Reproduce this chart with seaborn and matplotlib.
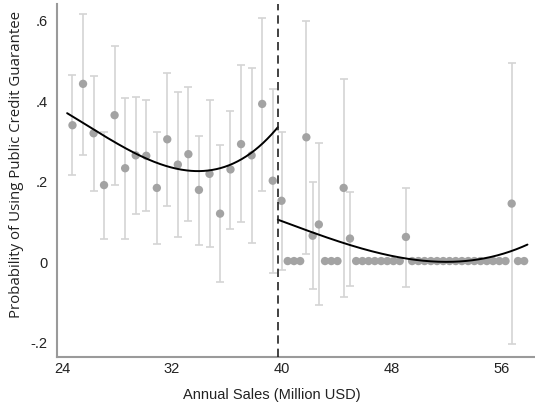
import numpy as np
import pandas as pd
import matplotlib
matplotlib.use("Agg")
import matplotlib.pyplot as plt
import matplotlib.transforms as mtransforms
import seaborn as sns

# Binned means left of the cutoff (annual sales < 40)
left_x = [25.03, 25.80, 26.57, 27.33, 28.10, 28.87, 29.64, 30.41, 31.18, 31.94,
          32.71, 33.48, 34.25, 35.02, 35.79, 36.55, 37.32, 38.09, 38.86, 39.63]
left_y = [0.338, 0.441, 0.318, 0.189, 0.363, 0.231, 0.263, 0.262, 0.182, 0.303,
          0.240, 0.266, 0.177, 0.217, 0.118, 0.228, 0.291, 0.263, 0.391, 0.200]
left_hi = [0.463, 0.615, 0.461, 0.320, 0.536, 0.405, 0.409, 0.400, 0.320, 0.468,
           0.420, 0.434, 0.311, 0.400, 0.288, 0.374, 0.487, 0.481, 0.605, 0.429]
left_lo = [0.215, 0.265, 0.175, 0.056, 0.190, 0.056, 0.116, 0.124, 0.043, 0.138,
           0.060, 0.099, 0.041, 0.035, -0.053, 0.081, 0.096, 0.046, 0.175, -0.029]

# Binned means right of the cutoff (annual sales >= 40)
right_x = [40.27, 40.72, 41.18, 41.63, 42.08, 42.54, 42.99, 43.44, 43.90, 44.35,
           44.80, 45.26, 45.71, 46.17, 46.62, 47.07, 47.53, 47.98, 48.43, 48.89,
           49.34, 49.79, 50.25, 50.70, 51.16, 51.61, 52.06, 52.52, 52.97, 53.42,
           53.88, 54.33, 54.78, 55.24, 55.69, 56.15, 56.60, 57.05, 57.51, 57.96]
right_y = [0.150, 0, 0, 0, 0.308, 0.063, 0.091, 0, 0, 0,
           0.182, 0.056, 0, 0, 0, 0, 0, 0, 0, 0,
           0.060, 0, 0, 0, 0, 0, 0, 0, 0, 0,
           0, 0, 0, 0, 0, 0, 0, 0.143, 0, 0]
# confidence intervals only for bins with non-zero means
right_ci_x = [40.27, 42.08, 42.54, 42.99, 44.80, 45.26, 49.34, 57.05]
right_hi = [0.322, 0.597, 0.196, 0.293, 0.453, 0.172, 0.182, 0.493]
right_lo = [-0.022, 0.017, -0.070, -0.110, -0.089, -0.061, -0.065, -0.206]

# Points
fit_left_x = [24.64, 29.67, 34.44, 40.0]
fit_left_y = [0.368, 0.267, 0.224, 0.333]
fit_right_x = [40.0, 45.25, 52.3, 58.2]
fit_right_y = [0.103, 0.040, -0.002, 0.041]

cutoff = 40
x_ticks = [24, 32, 40, 48, 56]
y_ticks = [-0.2, 0, 0.2, 0.4, 0.6]
y_tick_labels = ["-.2", "0", ".2", ".4", ".6"]

sns.set_style("white")
plt.rcParams["font.family"] = ["Liberation Sans", "DejaVu Sans"]

fig = plt.figure(figsize=(5.35, 4.06), dpi=100)
ax = fig.add_axes([0.1065, 0.118, 0.8935, 0.87])

point_color = "#a3a3a3"
err_color = "#d4d4d4"

# error bars
ci_x = left_x + right_ci_x
ci_y = left_y + [right_y[right_x.index(v)] for v in right_ci_x]
ci_hi = left_hi + right_hi
ci_lo = left_lo + right_lo
yerr = [np.array(ci_y) - np.array(ci_lo), np.array(ci_hi) - np.array(ci_y)]
ax.errorbar(ci_x, ci_y, yerr=yerr, fmt="none", ecolor=err_color,
            elinewidth=1.2, capsize=3, capthick=1.2, zorder=1)

# binned means
pts = pd.DataFrame({"x": left_x + right_x, "y": left_y + right_y})
sns.scatterplot(data=pts, x="x", y="y", color=point_color, s=36,
                edgecolor="none", ax=ax, zorder=2)

# fitted polynomial curves
for fx, fy in [(fit_left_x, fit_left_y), (fit_right_x, fit_right_y)]:
    coef = np.polyfit(fx, fy, 3)
    grid = np.linspace(fx[0], fx[-1], 200)
    sns.lineplot(x=grid, y=np.polyval(coef, grid), color="black",
                 linewidth=1.4, ax=ax, zorder=3)

# threshold
ax.axvline(cutoff, color="#222222", linestyle=(0, (5, 3)), linewidth=1.2, zorder=4)

ax.set_xlim(23.9, 58.75)
ax.set_ylim(-0.239, 0.64)
ax.set_xticks(x_ticks)
ax.set_yticks(y_ticks)
ax.set_yticklabels(y_tick_labels)
ax.tick_params(axis="both", length=0, labelsize=10.5, colors="#222222")
ax.tick_params(axis="x", pad=3)
ax.tick_params(axis="y", pad=7)

# x tick labels sit a little right of their ticks in the original
shift = mtransforms.ScaledTranslation(4 / 100, 0, fig.dpi_scale_trans)
for lab in ax.get_xticklabels():
    lab.set_transform(lab.get_transform() + shift)

ax.set_xlabel("Annual Sales (Million USD)", fontsize=10.5, color="#222222")
ax.xaxis.set_label_coords(0.45, -0.086)
ax.set_ylabel("Probability of Using Public Credit Guarantee", fontsize=10.8,
              color="#222222", family=["Open Sans", "DejaVu Sans"])
ax.yaxis.set_label_coords(-0.068, 0.547)

sns.despine(ax=ax)
for side in ["left", "bottom"]:
    ax.spines[side].set_color("#9a9a9a")
    ax.spines[side].set_linewidth(1.5)

fig.savefig("out.png", dpi=100)
